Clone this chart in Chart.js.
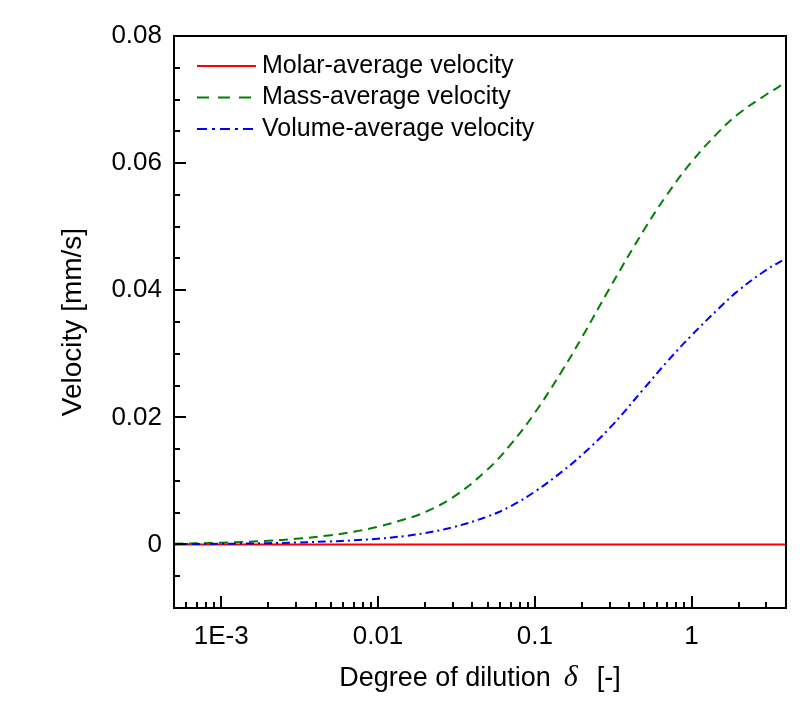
<!DOCTYPE html>
<html lang="en">
<head>
<meta charset="UTF-8">
<title>Velocity vs degree of dilution</title>
<script src="https://cdn.jsdelivr.net/npm/chart.js"></script>
<style>
  html, body { margin: 0; padding: 0; background: #fff; }
  #wrap { width: 812px; height: 705px; }
</style>
</head>
<body>
<div id="wrap"><canvas id="velocityChart" width="812" height="705"></canvas></div>
<script>
// values
const dilution = [0.0005, 0.0007, 0.001, 0.0015, 0.002, 0.003, 0.005, 0.007, 0.01, 0.015, 0.02, 0.03, 0.05, 0.07,
                  0.1, 0.15, 0.2, 0.3, 0.5, 0.7, 1, 1.5, 2, 3, 4];
const molarVelocity = [0, 0, 0, 0, 0, 0, 0, 0, 0, 0, 0, 0, 0, 0, 0, 0, 0, 0, 0, 0, 0, 0, 0, 0, 0];
const massVelocity = [0.00011, 0.00017, 0.00026, 0.00042, 0.00058, 0.00088, 0.00146, 0.002, 0.0028, 0.004, 0.0051, 0.0074,
                      0.0118, 0.0157, 0.0207, 0.0274, 0.0326, 0.0403, 0.0496, 0.0551, 0.0602, 0.065, 0.0678, 0.0708, 0.0727];
const volumeVelocity = [0.00005, 0.00007, 0.0001, 0.00015, 0.0002, 0.0003, 0.00048, 0.00065, 0.0009, 0.00134, 0.0018, 0.0027,
                        0.0044, 0.006, 0.0083, 0.0115, 0.0141, 0.0183, 0.0246, 0.0288, 0.0329, 0.0372, 0.04, 0.0432, 0.045];

const xTickValues = [0.001, 0.01, 0.1, 1];
const xTickLabels = ['1E-3', '0.01', '0.1', '1'];
const yTickValues = [0, 0.02, 0.04, 0.06, 0.08];
const yTickLabels = ['0', '0.02', '0.04', '0.06', '0.08'];

const FONT = "'Liberation Sans', Arial, sans-serif";
Chart.defaults.font.family = FONT;
Chart.defaults.color = '#000';

function toPoints(ys) {
    return dilution.map((d, i) => ({ x: d, y: ys[i] }));
}

function findLabel(values, labels, v) {
    const i = values.findIndex(t => Math.abs(t - v) < 1e-9);
    return i >= 0 ? labels[i] : '';
}

// frame, inward tick marks, legend and x title
const decorations = {
    id: 'decorations',
    afterDatasetsDraw(chart) {
        const ctx = chart.ctx;
        const a = chart.chartArea;
        const xs = chart.scales.x, ys = chart.scales.y;
        ctx.save();
        ctx.strokeStyle = '#000';
        ctx.lineWidth = 2;
        ctx.setLineDash([]);
        ctx.beginPath();
        xs.ticks.forEach(t => {
            const px = Math.round(xs.getPixelForValue(t.value));
            const len = t.label ? 12 : 6;
            ctx.moveTo(px, a.bottom);
            ctx.lineTo(px, a.bottom - len);
        });
        ys.ticks.forEach(t => {
            const py = Math.round(ys.getPixelForValue(t.value));
            const len = t.label ? 12 : 6;
            ctx.moveTo(a.left, py);
            ctx.lineTo(a.left + len, py);
        });
        ctx.stroke();
        ctx.strokeRect(a.left, a.top, a.right - a.left, a.bottom - a.top);

        // legend
        ctx.font = '25px ' + FONT;
        ctx.textBaseline = 'middle';
        ctx.textAlign = 'left';
        chart.data.datasets.forEach((ds, i) => {
            const y = a.top + 30 + i * 31.5;
            ctx.strokeStyle = ds.borderColor;
            ctx.lineWidth = 2;
            ctx.setLineDash(ds.legendDash || []);
            ctx.beginPath();
            ctx.moveTo(a.left + 23, y);
            ctx.lineTo(a.left + 82, y);
            ctx.stroke();
            ctx.fillStyle = '#000';
            ctx.fillText(ds.label, a.left + 88, y);
        });

        // x axis title with italic delta
        ctx.setLineDash([]);
        const part1 = 'Degree of dilution';
        const part2 = '\u03B4';
        const part3 = '[-]';
        const gap1 = 13, gap2 = 19;
        const f1 = '27px ' + FONT;
        const f2 = 'italic 30px "Liberation Serif", "Times New Roman", serif';
        ctx.font = f1;
        const w1 = ctx.measureText(part1).width, w3 = ctx.measureText(part3).width;
        ctx.font = f2;
        const w2 = ctx.measureText(part2).width;
        let x = (a.left + a.right) / 2 - (w1 + gap1 + w2 + gap2 + w3) / 2;
        const yb = 686;
        ctx.textBaseline = 'alphabetic';
        ctx.fillStyle = '#000';
        ctx.font = f1; ctx.fillText(part1, x, yb); x += w1 + gap1;
        ctx.font = f2; ctx.fillText(part2, x, yb); x += w2 + gap2;
        ctx.font = f1; ctx.fillText(part3, x, yb);
        ctx.restore();
    }
};

new Chart(document.getElementById('velocityChart').getContext('2d'), {
    type: 'line',
    data: {
        datasets: [
            {
                label: 'Molar-average velocity',
                data: toPoints(molarVelocity),
                borderColor: '#ff0000',
                borderWidth: 2,
                pointRadius: 0,
                order: 3,
                legendDash: []
            },
            {
                label: 'Mass-average velocity',
                data: toPoints(massVelocity),
                borderColor: '#008000',
                borderWidth: 2,
                borderDash: [9, 6],
                pointRadius: 0,
                tension: 0.4,
                order: 2,
                legendDash: [12, 9]
            },
            {
                label: 'Volume-average velocity',
                data: toPoints(volumeVelocity),
                borderColor: '#0000ff',
                borderWidth: 2,
                borderDash: [8, 4, 2, 4],
                pointRadius: 0,
                tension: 0.4,
                order: 1,
                legendDash: [10, 5, 3, 5]
            }
        ]
    },
    options: {
        responsive: false,
        animation: false,
        layout: { padding: { left: 0, right: 26, top: 36, bottom: 0 } },
        plugins: {
            legend: { display: false },
            tooltip: { enabled: false }
        },
        scales: {
            x: {
                type: 'logarithmic',
                min: 0.0005,
                max: 4,
                grid: { display: false, drawTicks: false, tickLength: 0 },
                border: { display: false },
                afterBuildTicks: (scale) => {
                    const ticks = [];
                    for (let e = -4; e <= 0; e++) {
                        for (let m = 1; m <= 9; m++) {
                            const v = m * Math.pow(10, e);
                            if (v >= 0.0005 * 0.999 && v <= 4 * 1.001) ticks.push({ value: v });
                        }
                    }
                    scale.ticks = ticks;
                },
                afterFit: (scale) => { scale.height = 97; },
                ticks: {
                    autoSkip: false,
                    maxRotation: 0,
                    padding: 13,
                    font: { size: 26 },
                    callback: (v) => findLabel(xTickValues, xTickLabels, v)
                }
            },
            y: {
                min: -0.01,
                max: 0.08,
                grid: { display: false, drawTicks: false, tickLength: 0 },
                border: { display: false },
                afterBuildTicks: (scale) => {
                    const ticks = [];
                    for (let i = -2; i <= 16; i++) ticks.push({ value: i * 0.005 });
                    scale.ticks = ticks;
                },
                afterFit: (scale) => { scale.width = 174; },
                title: {
                    display: true,
                    text: 'Velocity [mm/s]',
                    font: { size: 28 },
                    padding: { top: 56, bottom: 0 }
                },
                ticks: {
                    autoSkip: false,
                    padding: 12,
                    font: { size: 26 },
                    callback: (v) => findLabel(yTickValues, yTickLabels, v)
                }
            }
        }
    },
    plugins: [decorations]
});
</script>
</body>
</html>
